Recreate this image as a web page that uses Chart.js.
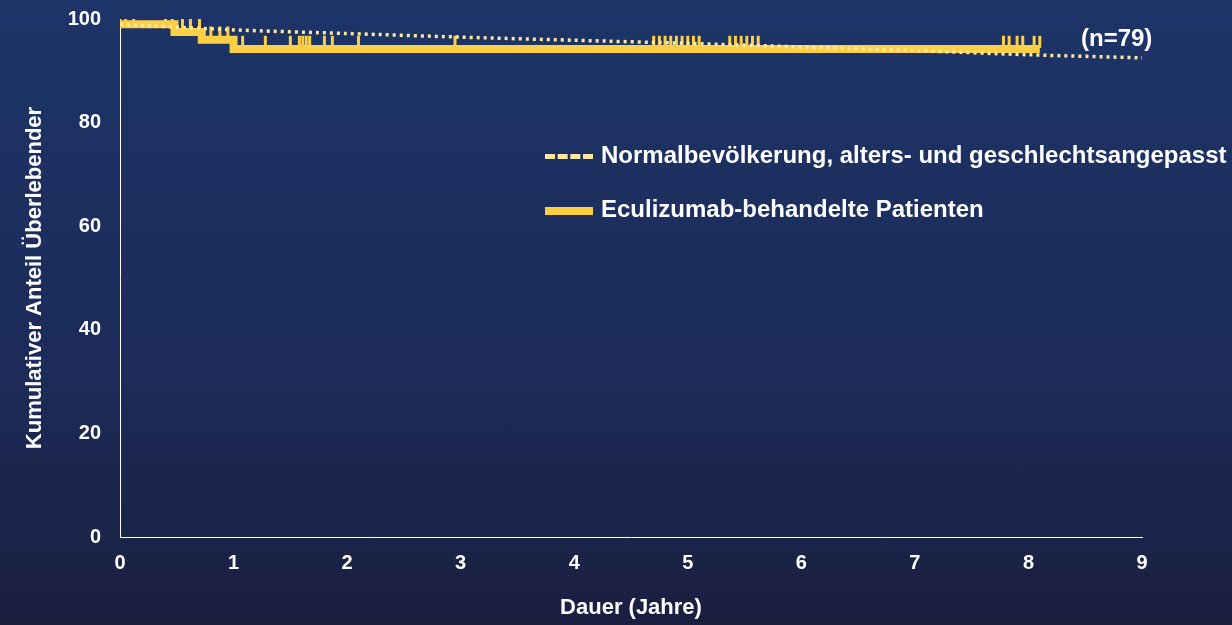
<!DOCTYPE html>
<html><head><meta charset="utf-8">
<script src="https://cdn.jsdelivr.net/npm/chart.js@4"></script>
<style>
html,body{margin:0;width:1232px;height:625px;overflow:hidden;background:linear-gradient(#1d3468 0%,#1c2b58 60%,#1a1f40 100%);font-family:"Liberation Sans",Arial,sans-serif}
#wrap{position:absolute;left:0;top:0;width:1232px;height:625px}
.t{position:absolute;color:#fff;font-weight:bold;font-size:24px;white-space:nowrap}
</style></head><body>
<div id="wrap"><canvas id="c" width="1232" height="625"></canvas></div>
<div class="t" style="left:1081px;top:24px">(n=79)</div>
<div class="t" style="left:545px;top:141px"><span style="display:inline-block;width:48px;border-top:5px dashed #fde9a0;vertical-align:middle;margin-right:8px"></span>Normalbevölkerung, alters- und geschlechtsangepasst</div>
<div class="t" style="left:545px;top:195px"><span style="display:inline-block;width:48px;height:8px;background:#fdcf45;vertical-align:middle;margin-right:8px"></span>Eculizumab-behandelte Patienten</div>
<script>
// Kaplan-Meier steps (years, %)
const kmX = [0, 0.48, 0.72, 1.0, 8.1];
const kmY = [99, 97.5, 96, 94.2, 94.2];
// matched population (dotted)
const popX = [0, 1, 2, 3, 4, 5, 6, 7, 8, 9];
const popY = [99, 97.9, 97.2, 96.5, 95.9, 95.3, 94.6, 93.9, 93.1, 92.5];
// censoring marks
const censX = [0, 0.05, 0.12, 0.4, 0.46, 0.55, 0.62, 0.7, 0.8, 0.88, 0.95,
  1.08, 1.28, 1.5, 1.58, 1.61, 1.64, 1.67, 1.8, 1.87, 2.1, 2.95,
  4.7, 4.75, 4.8, 4.85, 4.9, 4.95, 5.0, 5.05, 5.1,
  5.37, 5.42, 5.47, 5.52, 5.57, 5.62,
  7.78, 7.83, 7.9, 7.95, 8.05, 8.1];
const xTicks = [0,1,2,3,4,5,6,7,8,9];
const yTicks = [0,20,40,60,80,100];

function kmAt(x){ let v = kmY[0]; kmX.forEach((t,i)=>{ if (x >= t) v = kmY[i]; }); return v; }

const f = (s) => ({ size: s, weight: 'bold', family: 'Liberation Sans' });
new Chart(document.getElementById('c'), {
  type: 'scatter',
  data: { datasets: [
    { data: popX.map((x,i)=>({x, y: popY[i]})), showLine: true, borderColor: '#fde9a0', borderWidth: 3.5, borderDash: [3,4], pointRadius: 0, tension: 0.3 },
    { data: kmX.map((x,i)=>({x, y: kmY[i]})), showLine: true, stepped: true, borderColor: '#fdcf45', borderWidth: 8, pointRadius: 0 },
    { data: censX.map(x=>({x, y: kmAt(x) + 1.4})), pointStyle: 'line', rotation: 90, radius: 6, borderColor: '#fdcf45', borderWidth: 3 },
  ]},
  options: {
    responsive: false, animation: false,
    layout: { padding: { top: 19, right: 90, left: 18, bottom: 0 } },
    plugins: { legend: { display: false }, tooltip: { enabled: false } },
    scales: {
      x: { type: 'linear', min: 0, max: 9, afterBuildTicks: s => { s.ticks = xTicks.map(v=>({value:v})); },
        afterFit: s => { s.height = 88; s.paddingLeft = 0; s.paddingRight = 0; },
        grid: { display: false, drawTicks: true, tickLength: 8, tickColor: '#fff' },
        border: { color: '#fff', width: 1 },
        ticks: { color: '#fff', font: f(20), padding: 6 },
        title: { display: true, text: 'Dauer (Jahre)', color: '#fff', font: f(22), padding: { top: 14 } } },
      y: { min: 0, max: 100, afterBuildTicks: s => { s.ticks = yTicks.map(v=>({value:v})); },
        afterFit: s => { s.width = 102; s.paddingTop = 0; s.paddingBottom = 0; },
        grid: { display: false, drawTicks: false },
        border: { color: '#fff', width: 1 },
        ticks: { color: '#fff', font: f(20), padding: 19 },
        title: { display: true, text: 'Kumulativer Anteil Überlebender', color: '#fff', font: f(22), padding: { bottom: 4 } } }
    }
  }
});
</script></body></html>
